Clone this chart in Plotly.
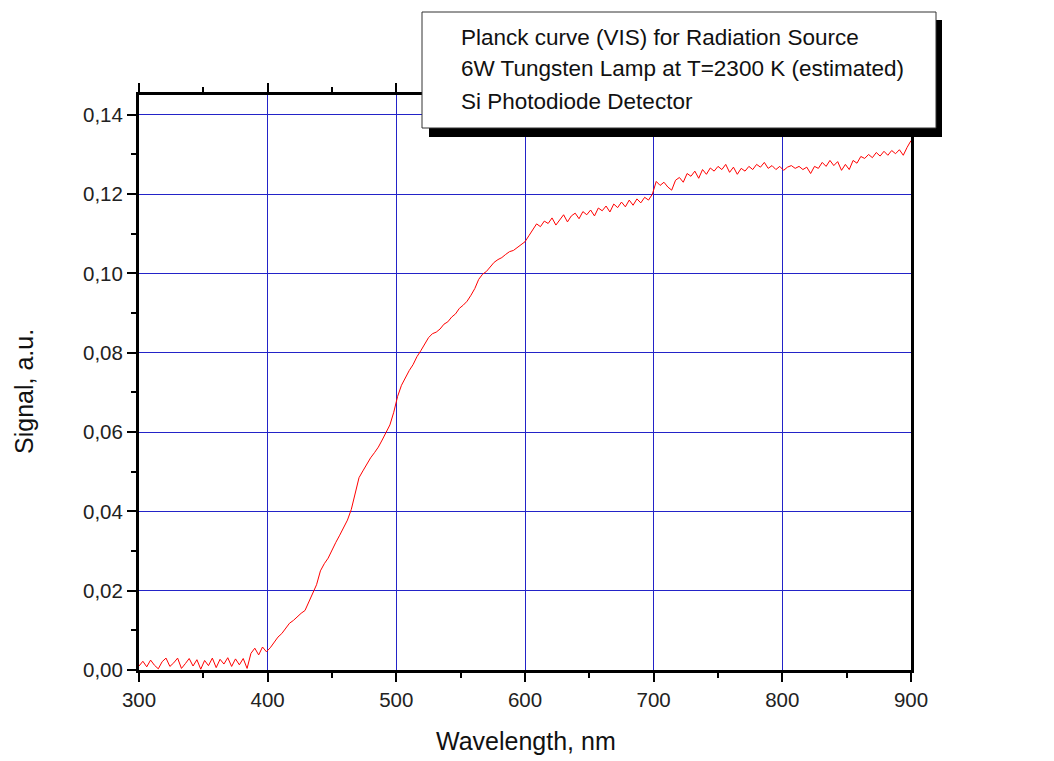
import plotly.graph_objects as go

# Wavelength grid (nm), 3 nm step
wavelength = list(range(300, 901, 3))

# Signal (a.u.)
signal = [
    0.0010, 0.0022, 0.0008, 0.0025, 0.0012, 0.0003, 0.0021, 0.0030, 0.0009, 0.0018,   # 300-327
    0.0030, 0.0004, 0.0016, 0.0029, 0.0010, 0.0026, 0.0002, 0.0024, 0.0011, 0.0030,   # 330-357
    0.0006, 0.0027, 0.0015, 0.0031, 0.0009, 0.0028, 0.0013, 0.0029, 0.0004, 0.0042,   # 360-387
    0.0055, 0.0038, 0.0058, 0.0046, 0.0056, 0.0071, 0.0083, 0.0092, 0.0105, 0.0118,   # 390-417
    0.0125, 0.0135, 0.0143, 0.0150, 0.0172, 0.0192, 0.0215, 0.0250, 0.0268, 0.0282,   # 420-447
    0.0303, 0.0322, 0.0340, 0.0358, 0.0378, 0.0405, 0.0445, 0.0485, 0.0502, 0.0520,   # 450-477
    0.0535, 0.0548, 0.0562, 0.0580, 0.0600, 0.0618, 0.0650, 0.0690, 0.0718, 0.0738,   # 480-507
    0.0755, 0.0770, 0.0790, 0.0805, 0.0820, 0.0838, 0.0848, 0.0852, 0.0860, 0.0872,   # 510-537
    0.0878, 0.0890, 0.0898, 0.0912, 0.0920, 0.0930, 0.0945, 0.0962, 0.0985, 0.0998,   # 540-567
    0.1005, 0.1018, 0.1028, 0.1035, 0.1040, 0.1048, 0.1055, 0.1058, 0.1065, 0.1072,   # 570-597
    0.1080, 0.1095, 0.1110, 0.1125, 0.1118, 0.1132, 0.1126, 0.1140, 0.1122, 0.1135,   # 600-627
    0.1148, 0.1130, 0.1145, 0.1152, 0.1138, 0.1156, 0.1148, 0.1160, 0.1145, 0.1165,   # 630-657
    0.1158, 0.1170, 0.1155, 0.1175, 0.1166, 0.1180, 0.1168, 0.1185, 0.1172, 0.1188,   # 660-687
    0.1178, 0.1192, 0.1185, 0.1200, 0.1232, 0.1222, 0.1230, 0.1218, 0.1210, 0.1235,   # 690-717
    0.1242, 0.1230, 0.1252, 0.1245, 0.1258, 0.1240, 0.1262, 0.1250, 0.1266, 0.1258,   # 720-747
    0.1270, 0.1262, 0.1275, 0.1255, 0.1268, 0.1250, 0.1265, 0.1258, 0.1270, 0.1262,   # 750-777
    0.1275, 0.1268, 0.1280, 0.1265, 0.1272, 0.1262, 0.1270, 0.1260, 0.1268, 0.1272,   # 780-807
    0.1265, 0.1270, 0.1262, 0.1268, 0.1252, 0.1270, 0.1265, 0.1280, 0.1270, 0.1285,   # 810-837
    0.1272, 0.1282, 0.1260, 0.1275, 0.1262, 0.1285, 0.1278, 0.1295, 0.1290, 0.1300,   # 840-867
    0.1292, 0.1305, 0.1296, 0.1308, 0.1298, 0.1310, 0.1302, 0.1312, 0.1298, 0.1318,   # 870-897
    0.1335,                                                                           # 900
]

legend_lines = [
    "Planck curve (VIS) for Radiation Source",
    "6W Tungsten Lamp at T=2300 K (estimated)",
    "Si Photodiode Detector",
]

x_range = [300, 900]
y_range = [0, 0.145]

FONT = "Liberation Sans, Arial, sans-serif"
GRID = "rgb(35,35,200)"
TICK_SIZE = 20.5

fig = go.Figure()
fig.add_trace(go.Scatter(
    x=wavelength, y=signal, mode="lines",
    line=dict(color="#ff0000", width=1),
    showlegend=False,
))

W, H = 1054, 761
L, R, T, B = 139, 1054 - 911, 95, 761 - 670
pw, ph = W - L - R, H - T - B


def px_to_paper_x(px):
    return (px - L) / pw


def px_to_paper_y(py):
    return (H - B - py) / ph


fig.update_layout(
    width=W, height=H,
    margin=dict(l=L, r=R, t=T, b=B, pad=0),
    paper_bgcolor="white", plot_bgcolor="white",
    separators=",.",
    font=dict(family=FONT, color="#222222", size=TICK_SIZE),
    xaxis=dict(
        range=x_range, dtick=100, tick0=300,
        showgrid=True, gridcolor=GRID, gridwidth=1,
        showline=True, linecolor="black", linewidth=3,
        mirror="allticks",
        ticks="outside", ticklen=9, tickwidth=2, tickcolor="black",
        minor=dict(dtick=50, ticks="outside", ticklen=5, tickwidth=2, tickcolor="black", showgrid=False),
        tickfont=dict(size=TICK_SIZE, family=FONT, color="#222222"),
        zeroline=False,
    ),
    yaxis=dict(
        range=y_range, dtick=0.02, tick0=0, tickformat=".2f",
        showgrid=True, gridcolor=GRID, gridwidth=1,
        showline=True, linecolor="black", linewidth=3,
        mirror=True,
        ticks="outside", ticklen=9, tickwidth=2, tickcolor="black",
        minor=dict(dtick=0.01, ticks="outside", ticklen=5, tickwidth=2, tickcolor="black", showgrid=False),
        tickfont=dict(size=TICK_SIZE, family=FONT, color="#222222"),
        zeroline=False,
    ),
)

# Axis titles
fig.add_annotation(text="Wavelength, nm", xref="paper", yref="paper",
                   x=px_to_paper_x(526), y=px_to_paper_y(741),
                   xanchor="center", yanchor="middle", showarrow=False,
                   font=dict(size=25, family=FONT, color="#111111"))
fig.add_annotation(text="Signal, a.u.", xref="paper", yref="paper",
                   x=px_to_paper_x(24), y=px_to_paper_y(392),
                   xanchor="center", yanchor="middle", showarrow=False, textangle=-90,
                   font=dict(size=25, family=FONT, color="#111111"))

# Legend box with shadow
fig.add_shape(type="rect", xref="paper", yref="paper",
              x0=px_to_paper_x(429), x1=px_to_paper_x(942),
              y0=px_to_paper_y(137), y1=px_to_paper_y(20),
              fillcolor="black", line=dict(width=0), layer="above")
fig.add_shape(type="rect", xref="paper", yref="paper",
              x0=px_to_paper_x(422), x1=px_to_paper_x(936),
              y0=px_to_paper_y(128), y1=px_to_paper_y(12),
              fillcolor="white", line=dict(color="#333333", width=1), layer="above")

for i, (line, cy) in enumerate(zip(legend_lines, [37, 68, 101])):
    fig.add_annotation(text=line, xref="paper", yref="paper",
                       x=px_to_paper_x(459), y=px_to_paper_y(cy),
                       xanchor="left", yanchor="middle", showarrow=False,
                       font=dict(size=22.5, family=FONT, color="#111111"))

fig.write_html("out.html")
